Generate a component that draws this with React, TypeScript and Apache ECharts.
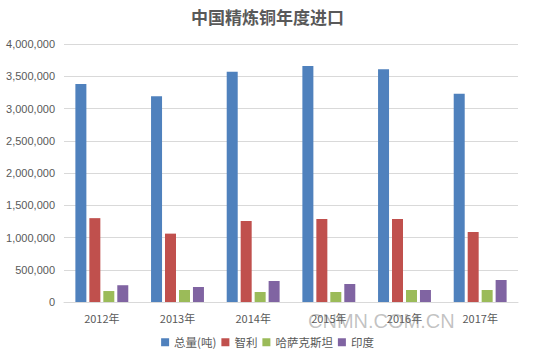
import React, { useEffect, useRef } from "react";
import * as echarts from "echarts";

const categories = ["2012年", "2013年", "2014年", "2015年", "2016年", "2017年"];
const seriesNames = ["总量(吨)", "智利", "哈萨克斯坦", "印度"];
const total = [3380000, 3190000, 3570000, 3660000, 3610000, 3230000];
const chile = [1300000, 1060000, 1256000, 1287000, 1287000, 1085000];
const kazakhstan = [170000, 186000, 155000, 155000, 186000, 186000];
const india = [260000, 233000, 326000, 279000, 186000, 341000];
const colors = ["#4F81BD", "#C0504D", "#9BBB59", "#8064A2"];

export default function App() {
  const ref = useRef<HTMLDivElement>(null);
  useEffect(() => {
    const chart = echarts.init(ref.current!, null, { renderer: "svg" });
    const data = [total, chile, kazakhstan, india];
    chart.setOption({
      animation: false,
      backgroundColor: "#ffffff",
      title: {
        text: "中国精炼铜年度进口",
        left: "center",
        top: 3,
        textStyle: {
          fontFamily: "Noto Sans CJK SC",
          fontSize: 17,
          fontWeight: "bold",
          color: "#595959",
        },
      },
      grid: { left: 64, right: 17, top: 44, bottom: 56 },
      legend: {
        bottom: 5,
        left: "center",
        itemWidth: 8,
        itemHeight: 8,
        itemGap: 5,
        icon: "rect",
        textStyle: { fontFamily: "Noto Sans CJK SC", fontSize: 11.5, color: "#595959" },
        data: seriesNames,
      },
      xAxis: {
        type: "category",
        data: categories,
        axisTick: { show: false },
        axisLine: { lineStyle: { color: "#D9D9D9" } },
        axisLabel: { color: "#595959", fontSize: 11, fontFamily: "Noto Sans CJK SC", margin: 10 },
      },
      yAxis: {
        type: "value",
        min: 0,
        max: 4000000,
        interval: 500000,
        axisLabel: {
          color: "#595959",
          fontSize: 11,
          fontFamily: "Liberation Sans",
          margin: 9,
          formatter: (v: number) => v.toLocaleString("en-US"),
        },
        splitLine: { lineStyle: { color: "#D9D9D9" } },
        axisLine: { show: false },
        axisTick: { show: false },
      },
      graphic: [
        {
          type: "text",
          left: 308,
          top: 311,
          style: {
            text: "CNMN.COM.CN",
            fontSize: 20,
            fontFamily: "Liberation Sans",
            fill: "rgba(120,120,120,0.45)",
          },
          z: 100,
        },
      ],
      series: seriesNames.map((name, i) => ({
        name,
        type: "bar",
        data: data[i],
        barWidth: 11,
        barGap: "27%",
        itemStyle: { color: colors[i] },
      })),
    });
    return () => chart.dispose();
  }, []);
  return <div ref={ref} style={{ width: 535, height: 358, position: "absolute", left: 0, top: 0 }} />;
}
